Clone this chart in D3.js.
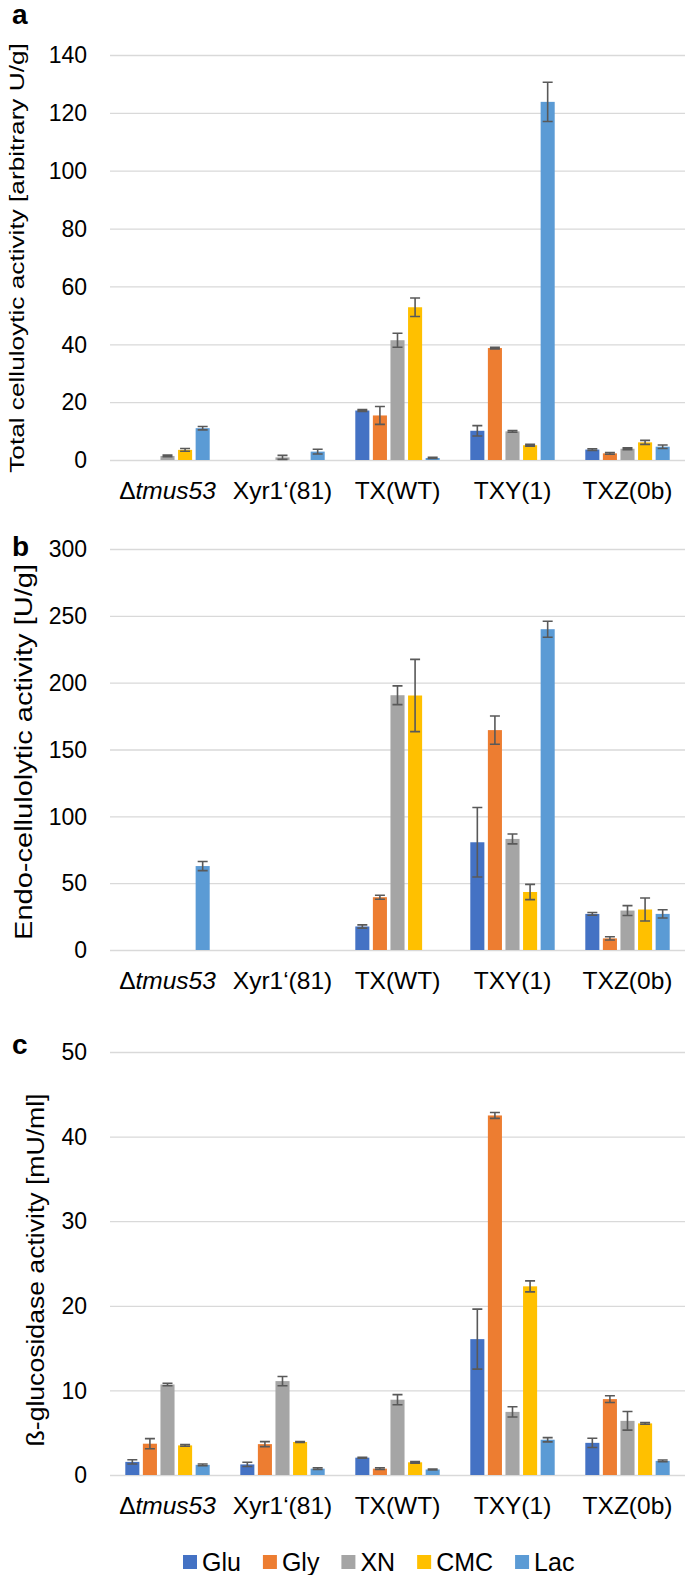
<!DOCTYPE html>
<html>
<head>
<meta charset="utf-8">
<script src="https://cdn.jsdelivr.net/npm/d3@7"></script>
<style>
  body { margin: 0; background: #fff; }
  text { font-family: "Liberation Sans", Arial, sans-serif; fill: #000; }
</style>
</head>
<body>
<div id="chart"></div>
<script>
// categories and series
var strains = ["tmus53", "Xyr1‘(81)", "TX(WT)", "TXY(1)", "TXZ(0b)"];
var media = ["Glu", "Gly", "XN", "CMC", "Lac"];
var colors = ["#4472c4", "#ed7d31", "#a5a5a5", "#ffc000", "#5b9bd5"];

// a: total cellulolytic activity
var totalVals = [
  [0, 0, 17.1, 10.1, 3.6],
  [0, 0, 15.4, 38.7, 2.3],
  [1.4, 0.9, 41.4, 9.9, 3.9],
  [3.5, 0, 52.8, 5.1, 6.1],
  [11.0, 2.9, 0.7, 123.8, 4.6]
];
var totalErr = [
  [0, 0, 0.3, 1.8, 0.3],
  [0, 0, 3.1, 0.3, 0.3],
  [0.3, 0.7, 2.4, 0.3, 0.3],
  [0.5, 0, 3.2, 0.3, 0.7],
  [0.6, 0.8, 0.2, 6.8, 0.6]
];
var totalTicks = [0, 20, 40, 60, 80, 100, 120, 140];

// b: endo-cellulolytic activity
var endoVals = [
  [0, 0, 17.6, 80.6, 27],
  [0, 0, 39.5, 164.5, 8.7],
  [0, 0, 190.6, 83.1, 29.5],
  [0, 0, 190.4, 43.4, 30.3],
  [62.8, 0, 0, 240, 27]
];
var endoErr = [
  [0, 0, 1.2, 26, 1],
  [0, 0, 1.5, 10.6, 1.2],
  [0, 0, 7, 3.7, 3.7],
  [0, 0, 27, 5.7, 8.6],
  [3.4, 0, 0, 6, 3.1]
];
var endoTicks = [0, 50, 100, 150, 200, 250, 300];

// c: beta-glucosidase activity
var glucVals = [
  [1.55, 1.25, 2.05, 16.06, 3.8],
  [3.7, 3.65, 0.75, 42.5, 8.97],
  [10.7, 11.1, 8.9, 7.46, 6.4],
  [3.5, 3.9, 1.5, 22.3, 6.1],
  [1.2, 0.75, 0.65, 4.17, 1.67]
];
var glucErr = [
  [0.25, 0.25, 0.05, 3.55, 0.55],
  [0.6, 0.3, 0.1, 0.35, 0.4],
  [0.15, 0.55, 0.6, 0.6, 1.1],
  [0.1, 0.05, 0.1, 0.65, 0.1],
  [0.1, 0.1, 0.05, 0.25, 0.1]
];
var glucTicks = [0, 10, 20, 30, 40, 50];

var width = 685, height = 1575;
var left = 110, right = 685;

var svg = d3.select("#chart").append("svg")
  .attr("width", width)
  .attr("height", height);

var x0 = d3.scaleBand().domain(strains).range([left, right])
  .paddingInner(0.266).paddingOuter(0.133);
var x1 = d3.scaleBand().domain(media).range([0, x0.bandwidth()])
  .paddingInner(0.2);

function drawPanel(p) {
  var y = d3.scaleLinear().domain([0, p.max]).range([p.bottom, p.top]);
  var g = svg.append("g");

  // gridlines
  g.append("g")
    .attr("transform", "translate(" + left + ",0)")
    .call(d3.axisLeft(y).tickValues(p.ticks).tickSize(-(right - left)).tickFormat(""))
    .call(function(s) {
      s.select(".domain").remove();
      s.selectAll("line").attr("stroke", "#d9d9d9").attr("stroke-width", 1.3);
    });

  // tick labels
  g.selectAll(".tl").data(p.ticks).enter().append("text")
    .attr("x", 87)
    .attr("y", function(d) { return y(d); })
    .attr("dy", "0.36em")
    .attr("text-anchor", "end")
    .style("font-size", "23px")
    .text(function(d) { return d; });

  // bars
  media.forEach(function(m, si) {
    var gs = g.append("g");
    gs.selectAll("rect").data(p.vals[si]).enter().append("rect")
      .attr("x", function(d, i) { return x0(strains[i]) + x1(m); })
      .attr("y", function(d) { return y(d); })
      .attr("width", x1.bandwidth())
      .attr("height", function(d) { return y(0) - y(d); })
      .attr("fill", colors[si]);

    var errs = p.vals[si].map(function(v, i) { return {v: v, e: p.errs[si][i], i: i}; })
      .filter(function(d) { return d.v > 0; });
    var cx = function(d) { return x0(strains[d.i]) + x1(m) + x1.bandwidth() / 2; };
    gs.selectAll(".eb").data(errs).enter().append("path")
      .attr("d", function(d) {
        var c = cx(d), t = y(d.v + d.e), b = y(Math.max(0, d.v - d.e));
        return "M" + (c - 5) + "," + t + "H" + (c + 5) +
               "M" + c + "," + t + "V" + b +
               "M" + (c - 5) + "," + b + "H" + (c + 5);
      })
      .attr("fill", "none")
      .attr("stroke", "#595959")
      .attr("stroke-width", 1.6);
  });

  // category labels
  var cl = g.selectAll(".cl").data(strains).enter().append("text")
    .attr("x", function(d) { return x0(d) + x0.bandwidth() / 2; })
    .attr("y", p.bottom + 39)
    .attr("text-anchor", "middle")
    .style("font-size", "24.5px");
  cl.each(function(d, i) {
    var t = d3.select(this);
    if (i === 0) {
      t.append("tspan").text("Δ");
      t.append("tspan").style("font-style", "italic").text(d);
    } else {
      t.text(d);
    }
  });

  // axis title, squeezed or stretched to the measured length
  var tt = g.append("text")
    .attr("text-anchor", "middle")
    .style("font-size", p.titleSize + "px")
    .text(p.title);
  var k = p.titleLen / tt.node().getComputedTextLength();
  tt.attr("transform", "translate(" + p.titleX + "," + p.titleY + ") rotate(-90) scale(" + k + ",1)");

  // panel letter
  g.append("text")
    .attr("x", 12)
    .attr("y", p.letterY)
    .style("font-size", "28px")
    .style("font-weight", "bold")
    .text(p.letter);
}

drawPanel({vals: totalVals, errs: totalErr, ticks: totalTicks, max: 140,
  top: 55, bottom: 460, title: "Total celluloytic activity [arbitrary U/g]",
  titleX: 24, titleY: 258, titleLen: 430, titleSize: 20.5, letter: "a", letterY: 24});
drawPanel({vals: endoVals, errs: endoErr, ticks: endoTicks, max: 300,
  top: 549, bottom: 950, title: "Endo-cellulolytic activity [U/g]",
  titleX: 32, titleY: 752, titleLen: 376, titleSize: 24.5, letter: "b", letterY: 556});
drawPanel({vals: glucVals, errs: glucErr, ticks: glucTicks, max: 50,
  top: 1052, bottom: 1475, title: "ß-glucosidase activity [mU/ml]",
  titleX: 44, titleY: 1270, titleLen: 353, titleSize: 23, letter: "c", letterY: 1054});

// legend
var lg = svg.append("g").attr("transform", "translate(183,1555)");
var lx = 0;
media.forEach(function(m, i) {
  lg.append("rect").attr("x", lx).attr("y", 0).attr("width", 14).attr("height", 14)
    .attr("fill", colors[i]);
  var t = lg.append("text").attr("x", lx + 19).attr("y", 16)
    .style("font-size", "25px").text(m);
  lx += 19 + t.node().getComputedTextLength() + 22;
});
</script>
</body>
</html>
